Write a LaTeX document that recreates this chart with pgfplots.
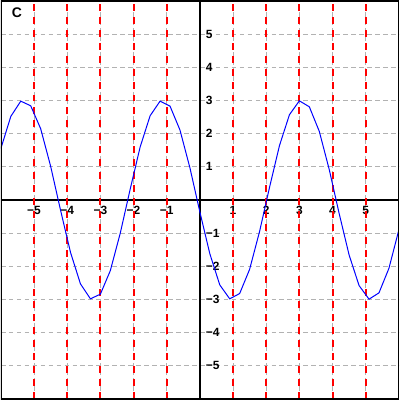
\documentclass[border=0pt]{standalone}
\usepackage{fontspec}
\setmainfont{Liberation Sans}
\usepackage{pgfplots}
\pgfplotsset{compat=1.18}
\begin{document}
\begin{tikzpicture}
\begin{axis}[
  width=300pt, height=300pt, scale only axis,
  xmin=-6, xmax=6, ymin=-6, ymax=6,
  axis lines=middle,
  axis line style={-, line width=1.3pt, black},
  xtick={-5,-4,-3,-2,-1,1,2,3,4,5},
  ytick={-5,-4,-3,-2,-1,1,2,3,4,5},
  xticklabels={−5,−4,−3,−2,−1,1,2,3,4,5},
  yticklabels={−5,−4,−3,−2,−1,1,2,3,4,5},
  major tick length=0pt,
  tick style={draw=none},
  ticklabel style={font=\fontsize{9}{9}\selectfont\bfseries},
  xticklabel style={anchor=north, yshift=-1pt},
  yticklabel style={anchor=west, xshift=1pt},
  grid=major,
  major grid style={gray!60, line width=0.75pt, dash pattern=on 3.5pt off 2.5pt},
  extra x ticks={-5,-4,-3,-2,-1,1,2,3,4,5},
  extra x tick labels={},
  extra x tick style={major grid style={red, line width=1.5pt, dash pattern=on 5.25pt off 4.5pt}},
]
\addplot[blue, line width=0.75pt, mark=none] coordinates {
(-6.0,1.55) (-5.7,2.52) (-5.4,2.98) (-5.1,2.84) (-4.8,2.15) (-4.5,1.02)
(-4.2,-0.31) (-3.9,-1.58) (-3.6,-2.53) (-3.3,-2.98) (-3.0,-2.84) (-2.7,-2.13)
(-2.4,-1.00) (-2.1,0.33) (-1.8,1.60) (-1.5,2.54) (-1.2,2.98) (-0.9,2.83)
(-0.6,2.11) (-0.3,0.97) (0.0,-0.36) (0.3,-1.62) (0.6,-2.56) (0.9,-2.98)
(1.2,-2.82) (1.5,-2.09) (1.8,-0.95) (2.1,0.38) (2.4,1.64) (2.7,2.57)
(3.0,2.99) (3.3,2.81) (3.6,2.07) (3.9,0.92) (4.2,-0.41) (4.5,-1.66)
(4.8,-2.58) (5.1,-2.99) (5.4,-2.80) (5.7,-2.06) (6.0,-0.90)
};
\draw[black, line width=1.5pt] (rel axis cs:0,0) rectangle (rel axis cs:1,1);
\node[anchor=north west, inner sep=0pt, font=\fontsize{10.5}{10.5}\selectfont\bfseries] at (rel axis cs:0.027,0.983) {C};
\end{axis}
\end{tikzpicture}
\end{document}
